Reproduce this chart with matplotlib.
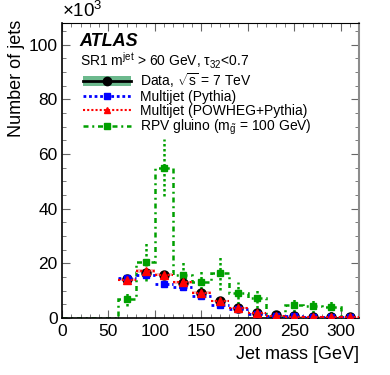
import numpy as np
import matplotlib.pyplot as plt
from matplotlib.patches import Patch
from matplotlib.lines import Line2D
from matplotlib.ticker import MultipleLocator

plt.rcParams['font.family'] = ['Liberation Sans', 'DejaVu Sans']
plt.rcParams['mathtext.fontset'] = 'custom'
plt.rcParams['mathtext.rm'] = 'Liberation Sans'
plt.rcParams['mathtext.it'] = 'Liberation Sans:italic'
plt.rcParams['mathtext.default'] = 'regular'

# bin edges of the signal histogram (GeV)
edges = [0, 20, 40, 60, 80, 100, 120, 140, 160, 180, 200, 220, 240, 260, 280, 300, 320]
# bin centres of the measured / MC points (GeV)
centres = [70, 90, 110, 130, 150, 170, 190, 210, 230, 250, 270, 290, 310]

# values in units of 10^3 jets
data = [14.2, 16.5, 15.6, 12.8, 9.3, 6.1, 3.7, 1.9, 1.0, 0.6, 0.5, 0.4, 0.3]
data_err = [0.8, 0.9, 0.9, 0.8, 0.7, 0.5, 0.4, 0.3, 0.2, 0.2, 0.1, 0.1, 0.1]
pythia = [14.8, 15.9, 12.5, 11.2, 7.9, 4.6, 3.2, 1.6, 0.9, 0.6, 0.5, 0.4, 0.3]
pythia_err = [0.9, 0.9, 0.8, 0.7, 0.6, 0.4, 0.3, 0.2, 0.2, 0.1, 0.1, 0.1, 0.1]
powheg = [14.0, 17.2, 15.8, 13.0, 9.2, 6.1, 3.7, 1.8, 0.9, 0.5, 0.4, 0.3, 0.2]
powheg_err = [0.6, 0.6, 0.6, 0.5, 0.5, 0.4, 0.3, 0.2, 0.2, 0.1, 0.1, 0.1, 0.1]
rpv_hist = [0, 0, 0, 6.8, 20.5, 55.0, 15.7, 13.3, 16.6, 9.3, 7.3, 0.5, 4.6, 4.4, 4.1, 0.3]
rpv_err = [2.5, 7.0, 10.5, 5.5, 4.5, 6.5, 4.0, 3.5, 0.5, 2.5, 2.5, 2.5, 0.3]

green = '#00a000'
dotted = (0, (1, 1))
dashdot = (0, (2, 1.5, 0.8, 1.5))

fig = plt.figure(figsize=(3.9, 3.75), dpi=100)
ax = fig.add_axes([0.159, 0.152, 0.762, 0.787])

# RPV gluino signal
ax.stairs(rpv_hist, edges, color=green, lw=1.8, linestyle=dashdot, zorder=2)
eb = ax.errorbar(centres, rpv_hist[3:], yerr=rpv_err, fmt='s', color=green, ms=4.5,
                 elinewidth=1.8, capsize=0, zorder=3)
eb[2][0].set_linestyle(dotted)

# POWHEG band
ax.bar(centres, [2 * e for e in powheg_err], bottom=[v - e for v, e in zip(powheg, powheg_err)],
       width=20, color='#f5b5b5', edgecolor='none', zorder=3)

# data
ax.errorbar(centres, data, yerr=data_err, fmt='o', color='k', ms=6.5, elinewidth=1.5,
            capsize=0, zorder=4)

# Pythia
eb = ax.errorbar(centres, pythia, xerr=10, yerr=pythia_err, fmt='s', color='blue', ms=5,
                 elinewidth=2, capsize=0, zorder=5)
for ln in eb[2]:
    ln.set_linestyle(dotted)

# POWHEG+Pythia
eb = ax.errorbar(centres, powheg, xerr=10, yerr=powheg_err, fmt='^', color='red', ms=6,
                 elinewidth=1.5, capsize=0, zorder=6)
for ln in eb[2]:
    ln.set_linestyle(dotted)

ax.set_xlim(0, 320)
ax.set_ylim(0, 108)
ax.xaxis.set_major_locator(MultipleLocator(50))
ax.xaxis.set_minor_locator(MultipleLocator(10))
ax.yaxis.set_major_locator(MultipleLocator(20))
ax.yaxis.set_minor_locator(MultipleLocator(5))
ax.tick_params(which='both', direction='in', top=True, right=True, color='0.4',
               labelsize=12.5)
ax.tick_params(which='major', length=6)
ax.tick_params(which='minor', length=3)
ax.tick_params(axis='x', pad=4)
ax.tick_params(axis='y', pad=3)
for s in ['left', 'bottom']:
    ax.spines[s].set_linewidth(1.2)
ax.spines['right'].set_color('0.55')
ax.spines['right'].set_linewidth(1.5)

ax.set_ylabel('Number of jets', fontsize=13, loc='top')
ax.yaxis.set_label_coords(-0.125, 1.01)
ax.set_xlabel('Jet mass [GeV]', fontsize=13, loc='right')
ax.xaxis.set_label_coords(1.0, -0.095)

ax.text(0, 1.008, r'$\times10^{3}$', transform=ax.transAxes, fontsize=13.5,
        ha='left', va='bottom')

ax.text(0.06, 0.936, 'ATLAS', transform=ax.transAxes, fontsize=13,
        fontweight='bold', fontstyle='italic', va='center')
ax.text(0.06, 0.871, r'SR1 m$^{jet}$ > 60 GeV, $\tau_{32}$<0.7', transform=ax.transAxes,
        fontsize=10, va='center')

h_data = (Patch(facecolor='#6cb98d', edgecolor='none'),
          Line2D([], [], color='k', lw=2, marker='o', ms=6))
h_py = Line2D([], [], color='blue', lw=2, ls=dotted, marker='s', ms=5)
h_pw = Line2D([], [], color='red', lw=1.5, ls=dotted, marker='^', ms=5)
h_rpv = Line2D([], [], color=green, lw=1.8, ls=dashdot, marker='s', ms=5)
ax.legend([h_data, h_py, h_pw, h_rpv],
          [r'Data, $\sqrt{s}$ = 7 TeV', 'Multijet (Pythia)', 'Multijet (POWHEG+Pythia)',
           r'RPV gluino (m$_{\tilde{g}}$ = 100 GeV)'],
          loc='upper left', bbox_to_anchor=(0.07, 0.836), frameon=False, fontsize=10,
          handlelength=3.5, handletextpad=0.65, labelspacing=0.0, borderpad=0,
          borderaxespad=0)

fig.savefig('out.png', dpi=100)
